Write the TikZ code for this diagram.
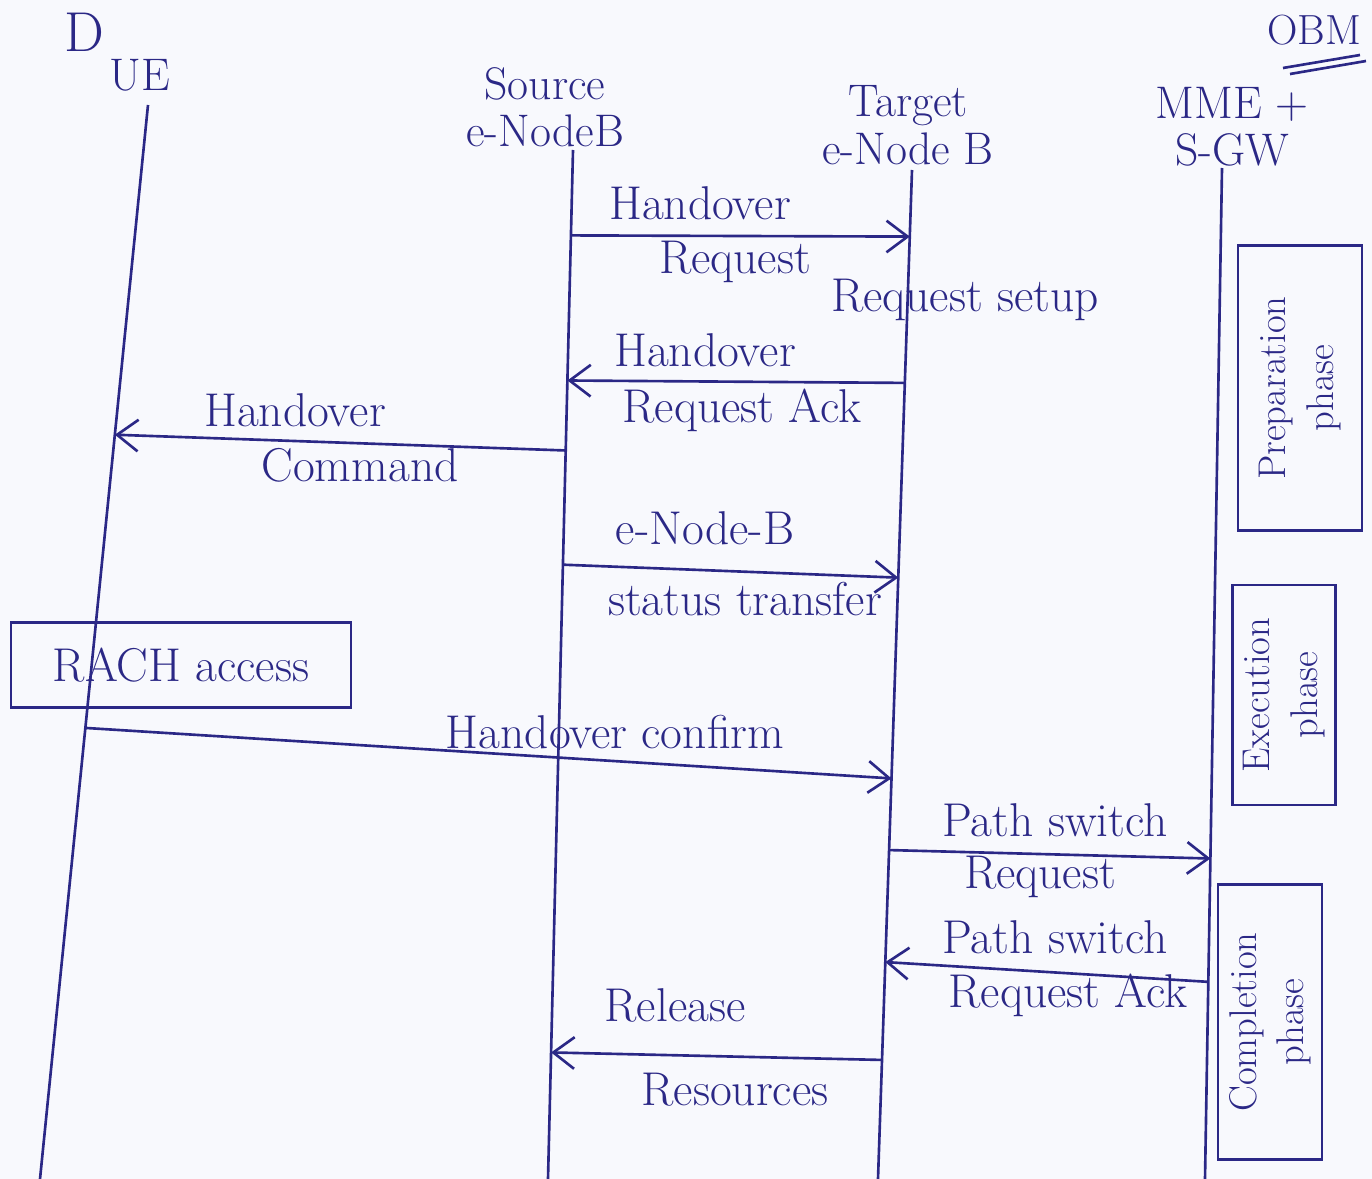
\documentclass[tikz,border=0pt]{standalone}
\usepackage{xcolor}
\usepackage{tikz}
\usetikzlibrary{arrows.meta,positioning,calc}
\definecolor{HoInk}{HTML}{2B2886}
\definecolor{HoPaper}{HTML}{F8F9FD}

\begin{document}
\begin{tikzpicture}[x=0.02cm, y=-0.02cm,
  ink/.style={draw=HoInk, line width=1.5pt},
  msg/.style={ink, -{Straight Barb[length=12pt, width=18pt, line width=1.5pt]}},
  lbl/.style={text=HoInk, inner sep=1pt, font=\fontsize{27}{30}\selectfont},
  head/.style={lbl, align=center, font=\fontsize{26}{27}\selectfont},
  phasebox/.style={ink, text=HoInk, rotate=90, align=center, inner sep=2pt,
    font=\fontsize{22}{27}\selectfont}]
  \fill[HoPaper] (0,0) rectangle (1372,1179);
  \useasboundingbox (0,0) rectangle (1372,1179);

  \node[lbl, font=\fontsize{32}{32}\selectfont] (qno) at (84,32) {D};
  \node[lbl, font=\fontsize{24}{24}\selectfont] (obm) at (1314,30) {OBM};
  \draw[ink] (1283,68) -- (1360,55);
  \draw[ink] (1290,74) -- (1366,61);

  \node[head] (ue) at (140,75) {UE};
  \node[head] (src) at (545,107) {Source\\e-NodeB};
  \node[head] (tgt) at (908,125) {Target\\e-Node B};
  \node[head] (mme) at (1232,127) {MME +\\S-GW};

  \coordinate (ueTop) at (148,105);  \coordinate (ueBot) at (40,1179);
  \coordinate (srcTop) at (573,150); \coordinate (srcBot) at (548,1179);
  \coordinate (tgtTop) at (912,170); \coordinate (tgtBot) at (878,1179);
  \coordinate (mmeTop) at (1222,168); \coordinate (mmeBot) at (1205,1179);
  \draw[ink] (ueTop) -- (ueBot);
  \draw[ink] (srcTop) -- (srcBot);
  \draw[ink] (tgtTop) -- (tgtBot);
  \draw[ink] (mmeTop) -- (mmeBot);

  \coordinate (hoReqA) at ($(srcTop)!0.083!(srcBot)$);
  \coordinate (hoReqB) at ($(tgtTop)!0.066!(tgtBot)$);
  \coordinate (hoAckA) at ($(tgtTop)!0.211!(tgtBot)$);
  \coordinate (hoAckB) at ($(srcTop)!0.224!(srcBot)$);
  \coordinate (hoCmdA) at ($(srcTop)!0.292!(srcBot)$);
  \coordinate (hoCmdB) at ($(ueTop)!0.307!(ueBot)$);
  \coordinate (stA) at ($(srcTop)!0.403!(srcBot)$);
  \coordinate (stB) at ($(tgtTop)!0.404!(tgtBot)$);
  \coordinate (hoConfA) at ($(ueTop)!0.580!(ueBot)$);
  \coordinate (hoConfB) at ($(tgtTop)!0.603!(tgtBot)$);
  \coordinate (psReqA) at ($(tgtTop)!0.674!(tgtBot)$);
  \coordinate (psReqB) at ($(mmeTop)!0.683!(mmeBot)$);
  \coordinate (psAckA) at ($(mmeTop)!0.805!(mmeBot)$);
  \coordinate (psAckB) at ($(tgtTop)!0.785!(tgtBot)$);
  \coordinate (relA) at ($(tgtTop)!0.882!(tgtBot)$);
  \coordinate (relB) at ($(srcTop)!0.877!(srcBot)$);

  \draw[msg] (hoReqA) -- (hoReqB);
  \draw[msg] (hoAckA) -- (hoAckB);
  \draw[msg] (hoCmdA) -- (hoCmdB);
  \draw[msg] (stA) -- (stB);
  \draw[msg] (hoConfA) -- (hoConfB);
  \draw[msg] (psReqA) -- (psReqB);
  \draw[msg] (psAckA) -- (psAckB);
  \draw[msg] (relA) -- (relB);

  \node[lbl] (hoReq1) at (700,203) {Handover};
  \node[lbl] (hoReq2) at (735,262) {Request};
  \node[lbl] (reqSetup) at (965,300) {Request setup};
  \node[lbl] (hoAck1) at (705,350) {Handover};
  \node[lbl] (hoAck2) at (742,410) {Request Ack};
  \node[lbl] (hoCmd1) at (295,410) {Handover};
  \node[lbl] (hoCmd2) at (360,465) {Command};
  \node[lbl] (st1) at (705,528) {e-Node-B};
  \node[lbl] (st2) at (745,599) {status transfer};
  \node[lbl, draw=HoInk, line width=1.5pt, minimum width=6.8cm, minimum height=1.7cm]
    (rach) at (181,665) {RACH access};
  \node[lbl] (hoConf) at (615,732) {Handover confirm};
  \node[lbl] (psReq1) at (1055,820) {Path switch};
  \node[lbl] (psReq2) at (1040,877) {Request};
  \node[lbl] (psAck1) at (1055,937) {Path switch};
  \node[lbl] (psAck2) at (1068,995) {Request Ack};
  \node[lbl] (rel1) at (675,1005) {Release};
  \node[lbl] (rel2) at (735,1090) {Resources};

  \node[phasebox, minimum width=5.7cm, minimum height=2.48cm] (prep) at (1300,388) {Preparation\\phase};
  \node[phasebox, minimum width=4.4cm, minimum height=2.06cm] (exec) at (1284,695) {Execution\\phase};
  \node[phasebox, minimum width=5.5cm, minimum height=2.08cm] (comp) at (1270,1022) {Completion\\phase};
\end{tikzpicture}
\end{document}
